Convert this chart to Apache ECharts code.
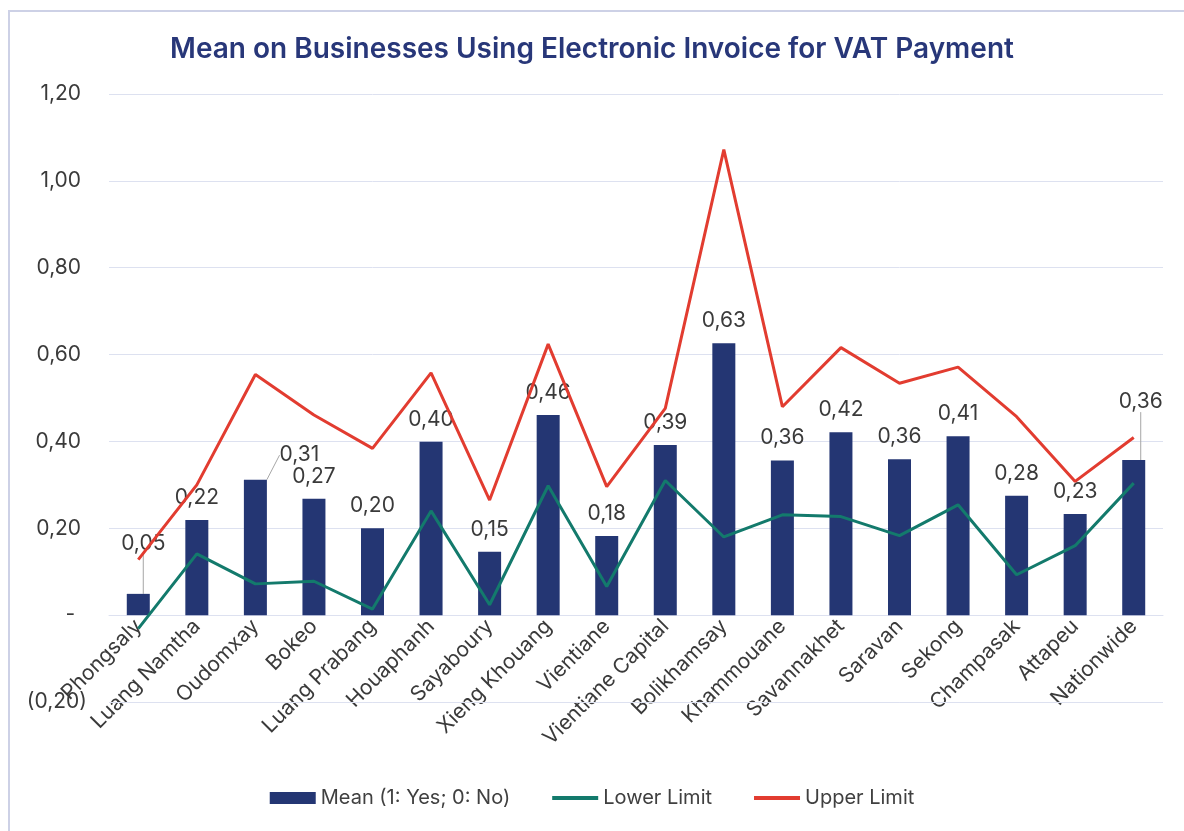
<!DOCTYPE html>
<html>
<head>
	<meta charset="UTF-8">
	<title>Mean on Businesses Using Electronic Invoice for VAT Payment</title>
	<script src="https://cdn.jsdelivr.net/npm/echarts@6/dist/echarts.min.js"></script>
	<style type="text/css">
		html,body{margin:0; padding:0; background:#fff;}
		.frame{position:absolute; left:8px; top:10px; width:1300px; height:1000px; border:2px solid #cdd1e6; box-sizing:border-box;}
		#chart1{position:absolute; left:0; top:0; width:1184px; height:831px;}
	</style>
</head>
<body>
	<div class="frame"></div>
	<div id="chart1"></div>
	<script type="text/javascript">
		// provinces
		var provinces = ['Phongsaly', 'Luang Namtha', 'Oudomxay', 'Bokeo', 'Luang Prabang', 'Houaphanh',
			'Sayaboury', 'Xieng Khouang', 'Vientiane', 'Vientiane Capital', 'Bolikhamsay', 'Khammouane',
			'Savannakhet', 'Saravan', 'Sekong', 'Champasak', 'Attapeu', 'Nationwide'];
		var meanValues = [0.049, 0.219, 0.312, 0.268, 0.200, 0.399, 0.146, 0.461, 0.182, 0.392, 0.626, 0.356,
			0.421, 0.359, 0.412, 0.275, 0.233, 0.357];
		var lowerLimit = [-0.031, 0.141, 0.072, 0.078, 0.014, 0.240, 0.024, 0.298, 0.066, 0.310, 0.180, 0.231,
			0.227, 0.183, 0.254, 0.093, 0.160, 0.304];
		var upperLimit = [0.128, 0.300, 0.554, 0.461, 0.384, 0.558, 0.265, 0.624, 0.296, 0.476, 1.072, 0.480,
			0.616, 0.534, 0.571, 0.457, 0.308, 0.409];
		var yMin = -0.2, yMax = 1.2, yStep = 0.2;

		// labels that sit off the bar top, with a leader line
		var labelShift = {0: [5, -28], 2: [44, -2], 17: [7, -36]};

		var font = 'Inter, "Noto Sans", sans-serif';
		var gridColor = '#dde1f0';

		function fmt(v){
			return Math.abs(v).toFixed(2).replace('.', ',');
		}

		var barData = meanValues.map(function(v, i){
			return {value: v, labelLine: {show: !!labelShift[i]}};
		});

		var myChart = echarts.init(document.getElementById('chart1'));
		var option = {
			backgroundColor: 'transparent',
			animation: false,
			title: {
				text: 'Mean on Businesses Using Electronic Invoice for VAT Payment',
				left: 'center',
				top: 31,
				textStyle: {color: '#283779', fontSize: 28, fontWeight: 600, fontFamily: font}
			},
			legend: {
				bottom: 18,
				left: 'center',
				itemGap: 42,
				itemWidth: 46,
				itemHeight: 12,
				textStyle: {color: '#404040', fontSize: 20, fontFamily: font},
				data: [
					{name: 'Mean (1: Yes; 0: No)', icon: 'rect'},
					{name: 'Lower Limit', icon: 'path://M0,0 L46,0 L46,4 L0,4 Z'},
					{name: 'Upper Limit', icon: 'path://M0,0 L46,0 L46,4 L0,4 Z'}
				]
			},
			grid: {left: 109, right: 21, top: 94, bottom: 129, containLabel: false, outerBoundsMode: 'none'},
			xAxis: {
				type: 'category',
				data: provinces,
				offset: -87, // axis sits on the zero line
				axisTick: {show: false},
				axisLine: {show: true, onZero: false, lineStyle: {color: gridColor, width: 1}},
				axisLabel: {
					rotate: 45,
					interval: 0,
					margin: 8,
					color: '#3a3a3a',
					fontSize: 21,
					fontFamily: font
				}
			},
			yAxis: {
				type: 'value',
				min: yMin,
				max: yMax,
				interval: yStep,
				splitLine: {show: true, lineStyle: {color: gridColor, width: 1}},
				axisLabel: {
					color: '#3a3a3a',
					fontSize: 21,
					fontFamily: font,
					margin: 22,
					formatter: function(v){
						if(Math.abs(v) < 1e-9) return '-  ';
						if(v < 0) return '(' + fmt(v) + ')';
						return fmt(v) + ' ';
					}
				}
			},
			series: [
				{
					name: 'Mean (1: Yes; 0: No)',
					type: 'bar',
					barWidth: 23,
					itemStyle: {color: '#243673'},
					data: barData,
					label: {
						show: true,
						position: 'top',
						distance: 12,
						color: '#3a3a3a',
						fontSize: 21,
						fontFamily: font,
						formatter: function(p){ return fmt(p.value); }
					},
					labelLine: {lineStyle: {color: '#a6a6a6', width: 1}},
					labelLayout: function(params){
						var s = labelShift[params.dataIndex];
						if(!s) return {};
						return {dx: s[0], dy: s[1]};
					},
					// bottom gridline, which the grid leaves out
					markLine: {
						silent: true,
						symbol: 'none',
						label: {show: false},
						lineStyle: {color: gridColor, width: 1, type: 'solid'},
						data: [{yAxis: yMin}]
					},
					z: 2
				},
				{
					name: 'Lower Limit',
					type: 'line',
					data: lowerLimit,
					symbol: 'none',
					lineStyle: {color: '#137a6c', width: 3},
					itemStyle: {color: '#137a6c'},
					z: 3
				},
				{
					name: 'Upper Limit',
					type: 'line',
					data: upperLimit,
					symbol: 'none',
					lineStyle: {color: '#e23c30', width: 3},
					itemStyle: {color: '#e23c30'},
					z: 3
				}
			]
		};
		myChart.setOption(option);
	</script>
</body>
</html>
